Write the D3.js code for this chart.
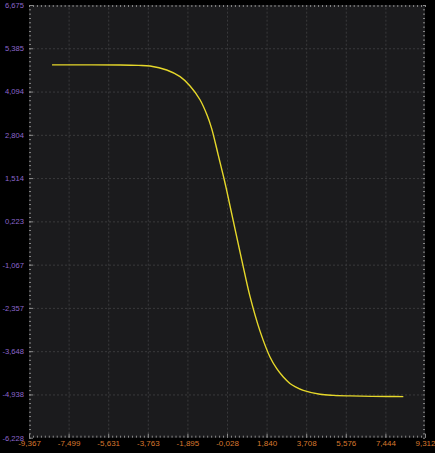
<!DOCTYPE html>
<html lang="en">
  <head>
    <meta charset="utf-8">
    <title>Sigmoid trace</title>
    <style>
      html, body { margin: 0; padding: 0; background: #000; }
      svg { display: block; }
      .grid line { stroke: #3a3a3c; stroke-width: 1px; stroke-dasharray: 2,2; }
      .grid path { display: none; }
      .minor path, .edge path { display: none; }
      .minor line, .edge line { stroke: #8a8a8a; stroke-width: 1px; }
      .lab text { font-family: "Liberation Sans", Arial, sans-serif; }
      .lab path, .lab line { display: none; }
      .trace { fill: none; stroke: #e6d82a; stroke-width: 1.4px; }
    </style>
  </head>
  <body>
<script src="https://d3js.org/d3.v7.min.js"></script>
<script>

// tick labels
const xTicks = [-9.367, -7.499, -5.631, -3.763, -1.895, -0.028, 1.840, 3.708, 5.576, 7.444, 9.312]
const yTicks = [-6.228, -4.938, -3.648, -2.357, -1.067, 0.223, 1.514, 2.804, 4.094, 5.385, 6.675]

// the trace
const traceX = [-8.28, -6.5, -5.07, -4.2, -3.66, -2.87, -2.24, -1.77, -1.30, -0.96, -0.75,
                -0.44, -0.20, -0.04, 0.27, 0.67, 1.06, 1.53, 2.00, 2.32, 2.63, 2.94, 3.20,
                3.57, 4.36, 5.0, 5.78, 6.8, 7.6, 8.29]
const traceY = [4.89, 4.89, 4.886, 4.875, 4.856, 4.737, 4.537, 4.260, 3.850, 3.380, 2.990,
                2.200, 1.580, 1.140, 0.230, -0.930, -2.022, -3.05, -3.820, -4.170, -4.420, -4.610, -4.710,
                -4.815, -4.931, -4.965, -4.982, -4.995, -5.0, -5.003]

const W = 435, H = 453
const margin = {top: 5, right: 10, bottom: 15.3, left: 29}
const width = W - margin.left - margin.right,
      height = H - margin.top - margin.bottom

const fmt = d => d3.format(".3f")(d).replace(".", ",").replace("−", "-")

const x = d3.scaleLinear().domain([xTicks[0], xTicks[xTicks.length - 1]]).range([0, width])
const y = d3.scaleLinear().domain([yTicks[0], yTicks[yTicks.length - 1]]).range([height, 0])

// 10 minor steps per labelled interval
const minorOf = ticks => {
    let out = []
    for (let i = 0; i < ticks.length - 1; i++)
        for (let j = 0; j < 10; j++)
            out.push(ticks[i] + (ticks[i + 1] - ticks[i]) * j / 10)
    out.push(ticks[ticks.length - 1])
    return out
}
const xMinor = minorOf(xTicks), yMinor = minorOf(yTicks)

const svg = d3.select("body").append("svg")
    .attr("width", W).attr("height", H)

const g = svg.append("g")
    .attr("transform", "translate(" + margin.left + "," + margin.top + ")")

g.append("rect")
    .attr("width", width).attr("height", height)
    .attr("fill", "#1b1b1d")

// dashed grid
g.append("g").attr("class", "grid")
    .attr("transform", "translate(0," + height + ")")
    .call(d3.axisBottom(x).tickValues(xTicks.slice(1, -1)).tickSize(-height).tickFormat(""))
g.append("g").attr("class", "grid")
    .call(d3.axisLeft(y).tickValues(yTicks.slice(1, -1)).tickSize(-width).tickFormat(""))

// minor + major ticks on all four edges (inside)
const edge = (axis, cls, tr) => {
    g.append("g").attr("class", "minor").attr("transform", tr)
        .call(axis.tickValues(cls == "x" ? xMinor : yMinor).tickSize(-2).tickFormat(""))
}
edge(d3.axisBottom(x), "x", "translate(0," + height + ")")
edge(d3.axisTop(x), "x", "translate(0,0)")
edge(d3.axisLeft(y), "y", "translate(0,0)")
edge(d3.axisRight(y), "y", "translate(" + width + ",0)")
g.append("g").attr("class", "edge").attr("transform", "translate(0," + height + ")")
    .call(d3.axisBottom(x).tickValues(xTicks).tickSize(-4).tickFormat(""))
g.append("g").attr("class", "edge")
    .call(d3.axisLeft(y).tickValues(yTicks).tickSize(-4).tickFormat(""))

// labels
g.append("g").attr("class", "lab")
    .attr("transform", "translate(0," + height + ")")
    .call(d3.axisBottom(x).tickValues(xTicks).tickSize(0).tickPadding(3).tickFormat(fmt))
    .selectAll("text").attr("fill", "#d9782e").attr("font-size", 8)
g.append("g").attr("class", "lab")
    .call(d3.axisLeft(y).tickValues(yTicks).tickSize(0).tickPadding(5).tickFormat(fmt))
    .selectAll("text").attr("fill", "#8c66cc").attr("font-size", 7.6)

// trace
const pts = traceX.map((v, i) => [v, traceY[i]])
g.append("path").attr("class", "trace")
    .datum(pts)
    .attr("d", d3.line().x(d => x(d[0])).y(d => y(d[1])).curve(d3.curveCatmullRom.alpha(0.5)))

</script>
  </body>
</html>
